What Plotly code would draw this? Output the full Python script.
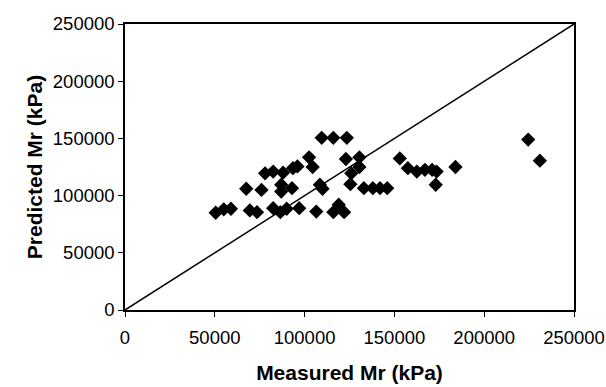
import plotly.graph_objects as go

measured = [50500, 55000, 59000, 69500, 73500, 82500, 86500, 90000, 97000, 106500, 116000, 119000, 122000,
            67500, 76000, 87000, 87000, 93000, 108500, 110000, 125500, 133000, 138000, 142000, 146000, 173000,
            78000, 82500, 88000, 93500, 96000, 104500, 126000, 130500, 157500, 162500, 167000, 171000, 173500, 184000,
            102500, 123000, 130500, 153000,
            109500, 116000, 123500, 224500, 231000]
predicted = [85000, 88000, 88500, 87000, 85500, 89000, 85500, 88500, 89000, 86000, 85500, 92000, 85500,
             106000, 105000, 109500, 103500, 106500, 109500, 106000, 110000, 106500, 106500, 106500, 106500, 109500,
             119500, 121000, 120000, 124000, 125500, 125000, 119500, 125000, 124000, 121000, 122500, 122500, 121000, 125000,
             133500, 132000, 133500, 132500,
             150500, 150500, 150500, 149000, 130500]

line_x = [0, 250000]
line_y = [0, 250000]
tick_vals = [0, 50000, 100000, 150000, 200000, 250000]
tick_text = ["0", "50000", "100000", "150000", "200000", "250000"]

fig = go.Figure()
fig.add_trace(go.Scatter(x=line_x, y=line_y, mode="lines",
                         line=dict(color="black", width=1.5), showlegend=False))
fig.add_trace(go.Scatter(x=measured, y=predicted, mode="markers",
                         marker=dict(symbol="diamond", size=11, color="black"),
                         showlegend=False))

font_family = "Liberation Sans, Arial, sans-serif"
axis_common = dict(showgrid=False, zeroline=False, showline=True, linecolor="black",
                   linewidth=1.5, mirror=True, ticks="outside", ticklen=5, tickcolor="black",
                   tickfont=dict(family=font_family, size=18.5, color="black"),
                   range=[0, 250000], tickvals=tick_vals, ticktext=tick_text,
                   automargin=False)

fig.update_layout(
    width=606, height=387,
    margin=dict(l=125, r=32, t=24, b=77),
    paper_bgcolor="white", plot_bgcolor="white",
    xaxis=dict(**axis_common, ticklabelstandoff=5,
               title=dict(text="Measured Mr (kPa)", standoff=18,
                          font=dict(family=font_family, size=21, color="black", weight="bold"))),
    yaxis=dict(**axis_common,
               title=dict(text="Predicted Mr (kPa)", standoff=4,
                          font=dict(family=font_family, size=21, color="black", weight="bold"))),
)

fig.write_html("out.html")
